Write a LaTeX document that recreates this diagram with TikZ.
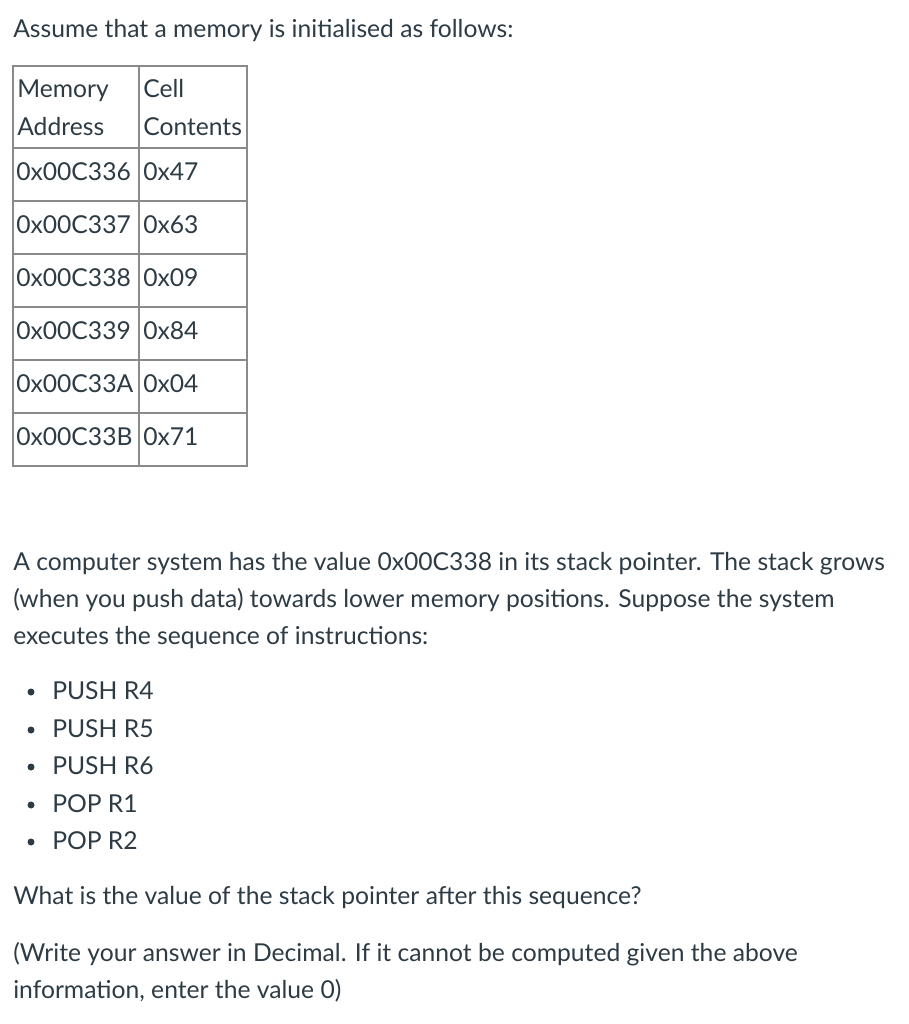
\documentclass[tikz,border=0pt]{standalone}
\usepackage{fontspec}
\setmainfont{Lato}
\usetikzlibrary{positioning}
\definecolor{ink}{HTML}{2D3B45}
\definecolor{rule}{HTML}{8A8A8A}
\tikzset{
  txt/.style={anchor=base west,inner sep=0pt,text=ink,font=\fontsize{18.5}{22}\selectfont},
  grid/.style={draw=rule,line width=1pt}
}
\begin{document}
\begin{tikzpicture}[x=0.75pt,y=-0.75pt]
  \useasboundingbox (0,0) rectangle (909,1024);
  \node[txt] (intro) at (13,38) {Assume that a memory is initialised as follows:};
  % table
  \draw[grid] (13,66) rectangle (247,466);
  \draw[grid] (139,66) -- (139,466);
  \foreach \y in {148,201,254,307,360,413}
    \draw[grid] (13,\y) -- (247,\y);
  \node[txt] (hmem) at (17,98) {Memory};
  \node[txt] (hadr) at (17,135) {Address};
  \node[txt] (hcell) at (143,98) {Cell};
  \node[txt] (hcont) at (143,135) {Contents};
  \foreach \a/\v [count=\i] in {336/47,337/63,338/09,339/84,33A/04,33B/71} {
    \node[txt] (addr\i) at (16,127+53*\i) {0x00C\a};
    \node[txt] (val\i) at (143,127+53*\i) {0x\v};
  }
  % question
  \node[txt] (para1) at (13,570) {A computer system has the value 0x00C338 in its stack pointer. The stack grows};
  \node[txt] (para2) at (13,607) {(when you push data) towards lower memory positions. Suppose the system};
  \node[txt] (para3) at (13,644) {executes the sequence of instructions:};
  \foreach \t/\y [count=\i] in {PUSH R4/699,PUSH R5/737,PUSH R6/774,POP R1/812,POP R2/849} {
    \fill[ink] (31,\y-7) circle (3.5);
    \node[txt] (ins\i) at (52,\y) {\t};
  }
  \node[txt] (ask) at (13,904) {What is the value of the stack pointer after this sequence?};
  \node[txt] (note1) at (13,961) {(Write your answer in Decimal. If it cannot be computed given the above};
  \node[txt] (note2) at (13,998) {information, enter the value 0)};
\end{tikzpicture}
\end{document}
